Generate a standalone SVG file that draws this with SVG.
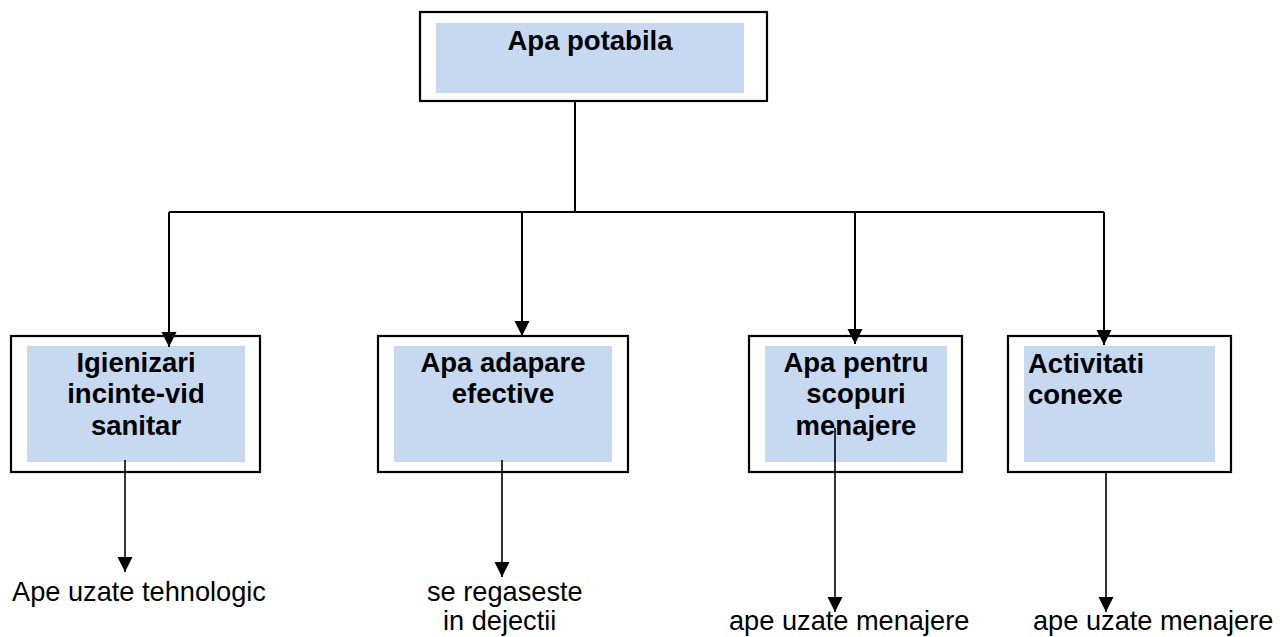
<svg xmlns="http://www.w3.org/2000/svg" width="1280" height="637" viewBox="0 0 1280 637">
<style>
.outer{fill:#fff;stroke:#000;stroke-width:2.2}
.inner{fill:#C6D9F1;stroke:none}
.bt{font-family:"Liberation Sans",Arial,sans-serif;font-weight:bold;font-size:27.5px;fill:#000}
.rt{font-family:"Liberation Sans",Arial,sans-serif;font-size:27.2px;fill:#000}
.ln{fill:none;stroke:#000;stroke-width:2}
.ln2{fill:none;stroke:#000;stroke-width:1.6}
</style>
<defs>
<marker id="ah" markerUnits="userSpaceOnUse" markerWidth="16" markerHeight="16" refX="15" refY="8" orient="auto" viewBox="0 0 16 16">
<path d="M0,0.5 L15,8 L0,15.5 Z" fill="#000"/>
</marker>
</defs>
<rect width="1280" height="637" fill="#fff"/>
<g id="n-top">
<rect class="outer" x="420" y="12" width="347" height="89"/>
<rect class="inner" x="436" y="23" width="308" height="70"/>
<text class="bt" x="590" y="50" text-anchor="middle">Apa potabila</text>
</g>
<g id="n-igienizari">
<rect class="outer" x="11" y="336" width="249" height="136"/>
<rect class="inner" x="27" y="346" width="218" height="116"/>
<text class="bt" x="136" y="372" text-anchor="middle">Igienizari</text>
<text class="bt" x="136" y="403" text-anchor="middle">incinte-vid</text>
<text class="bt" x="136" y="435" text-anchor="middle">sanitar</text>
</g>
<g id="n-adapare">
<rect class="outer" x="378" y="336" width="250" height="136"/>
<rect class="inner" x="394" y="346" width="218" height="116"/>
<text class="bt" x="503" y="372" text-anchor="middle">Apa adapare</text>
<text class="bt" x="503" y="403" text-anchor="middle">efective</text>
</g>
<g id="n-menajere">
<rect class="outer" x="749" y="336" width="213" height="136"/>
<rect class="inner" x="765" y="346" width="182" height="116"/>
<text class="bt" x="856" y="372" text-anchor="middle">Apa pentru</text>
<text class="bt" x="856" y="403" text-anchor="middle">scopuri</text>
<text class="bt" x="856" y="435" text-anchor="middle">menajere</text>
</g>
<g id="n-conexe">
<rect class="outer" x="1008" y="336" width="223" height="136"/>
<rect class="inner" x="1024" y="346" width="191" height="116"/>
<text class="bt" x="1028" y="373">Activitati</text>
<text class="bt" x="1028" y="404">conexe</text>
</g>
<g id="connectors">
<path class="ln" d="M575,101 V212"/>
<path class="ln" d="M169,212 H1104"/>
<path class="ln" d="M169,212 V347" marker-end="url(#ah)"/>
<path class="ln" d="M522,212 V336" marker-end="url(#ah)"/>
<path class="ln" d="M855,212 V344" marker-end="url(#ah)"/>
<path class="ln" d="M1104,212 V345" marker-end="url(#ah)"/>
<path class="ln2" d="M125,460 V572" marker-end="url(#ah)"/>
<path class="ln2" d="M502,460 V577" marker-end="url(#ah)"/>
<path class="ln2" d="M835,428 V612" marker-end="url(#ah)"/>
<path class="ln2" d="M1106,472 V612" marker-end="url(#ah)"/>
</g>
<g id="labels">
<text class="rt" x="12" y="601">Ape uzate tehnologic</text>
<text class="rt" x="427" y="601">se regaseste</text>
<text class="rt" x="443" y="630">in dejectii</text>
<text class="rt" x="729" y="630">ape uzate menajere</text>
<text class="rt" x="1033" y="630">ape uzate menajere</text>
</g>
</svg>
